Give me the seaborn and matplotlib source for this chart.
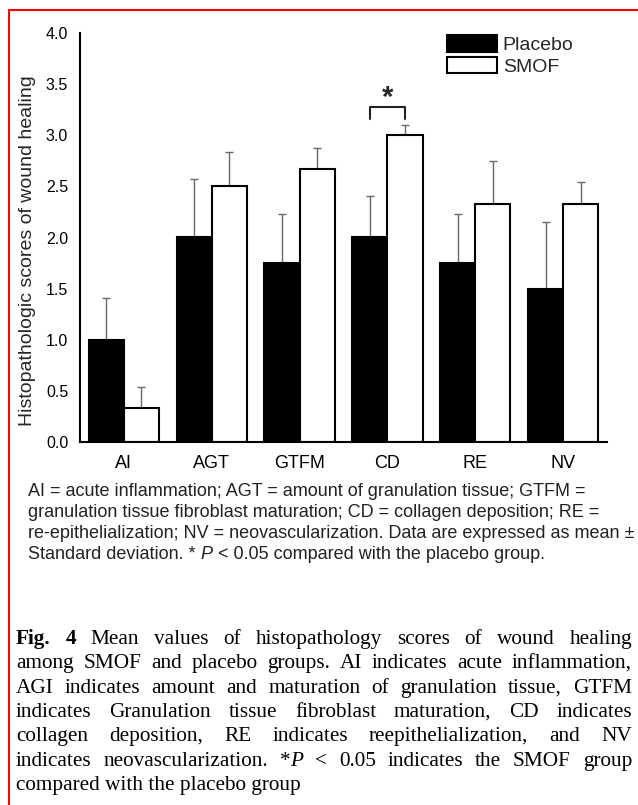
import numpy as np
import pandas as pd
import matplotlib
matplotlib.use("Agg")
import matplotlib.pyplot as plt
from matplotlib.lines import Line2D
import seaborn as sns

# ================= DATA =================
categories = ["AI", "AGT", "GTFM", "CD", "RE", "NV"]
groups = ["Placebo", "SMOF"]
placebo_mean = [1.00, 2.00, 1.75, 2.00, 1.75, 1.50]
placebo_sd = [0.41, 0.57, 0.48, 0.41, 0.48, 0.65]
smof_mean = [0.33, 2.50, 2.67, 3.00, 2.33, 2.33]
smof_sd = [0.21, 0.34, 0.21, 0.10, 0.42, 0.21]
y_ticks = [0.0, 0.5, 1.0, 1.5, 2.0, 2.5, 3.0, 3.5, 4.0]
y_label = "Histopathologic scores of wound healing"
sig_category = "CD"

note_lines = [
    [("AI = acute inflammation; AGT = amount of granulation tissue; GTFM =", "n")],
    [("granulation tissue fibroblast maturation; CD = collagen deposition; RE =", "n")],
    [("re-epithelialization; NV = neovascularization. Data are expressed as mean \u00b1", "n")],
    [("Standard deviation. * ", "n"), ("P", "i"), (" < 0.05 compared with the placebo group.", "n")],
]

caption_lines = [
    [("Fig. 4 ", "b"), ("Mean values of histopathology scores of wound healing", "n")],
    [("among SMOF and placebo groups. AI indicates acute inflammation,", "n")],
    [("AGI indicates amount and maturation of granulation tissue, GTFM", "n")],
    [("indicates Granulation tissue fibroblast maturation, CD indicates", "n")],
    [("collagen deposition, RE indicates reepithelialization, and NV", "n")],
    [("indicates neovascularization. *", "n"), ("P", "i"), (" < 0.05 indicates the SMOF group", "n")],
    [("compared with the placebo group", "n")],
]

# ================= FIGURE =================
sns.set_style("white")
plt.rcParams["font.family"] = ["Liberation Sans", "DejaVu Sans"]

W, H = 638, 805
fig = plt.figure(figsize=(W / 100, H / 100), dpi=100)
ax = fig.add_axes([80 / W, 1 - 442 / H, (607 - 80) / W, (442 - 33) / H])

df = pd.DataFrame({
    "category": categories * 2,
    "group": ["Placebo"] * len(categories) + ["SMOF"] * len(categories),
    "score": placebo_mean + smof_mean,
})

sns.barplot(
    data=df, x="category", y="score", hue="group",
    order=categories, hue_order=groups,
    palette={"Placebo": "black", "SMOF": "white"},
    edgecolor="black", linewidth=1.5, saturation=1,
    errorbar=None, width=0.8, legend=False, ax=ax
)
for cont in ax.containers:
    for p in cont:
        p.set_zorder(2)

# one-sided SD error bars (drawn under the bars so the lower cap is hidden)
for cont, sd in zip(ax.containers, [placebo_sd, smof_sd]):
    xs = [p.get_x() + p.get_width() / 2 for p in cont]
    ys = [p.get_height() for p in cont]
    ax.errorbar(xs, ys, yerr=[np.zeros(len(sd)), sd], fmt="none",
                ecolor="#6a6a6a", elinewidth=1.0, capsize=3.2, capthick=1.0, zorder=1)

ax.set_xlim(-0.5, 5.5)
ax.set_ylim(0, 4)
ax.set_yticks(y_ticks)
ax.set_yticklabels([f"{v:.1f}" for v in y_ticks])
ax.set_xlabel("")
ax.set_ylabel(y_label, fontsize=14, va="center")
ax.yaxis.set_label_coords(-0.100, 0.469)

sns.despine(ax=ax)
for side in ["left", "bottom"]:
    ax.spines[side].set_linewidth(1.5)
    ax.spines[side].set_color("black")
    ax.spines[side].set_zorder(3)
ax.tick_params(axis="y", length=6.5, width=1.5, pad=2, labelsize=11.5, colors="black")
ax.tick_params(axis="x", length=0, pad=9, labelsize=13, colors="black")

# significance bracket
ci = categories.index(sig_category)
p1 = ax.containers[0][ci]
p2 = ax.containers[1][ci]
x1 = p1.get_x() + p1.get_width() / 2
x2 = p2.get_x() + p2.get_width() / 2
ax.plot([x1, x1, x2, x2], [3.16, 3.28, 3.28, 3.16], color="#222222", lw=1.5, clip_on=False)
ax.text((x1 + x2) / 2, 3.29, "*", ha="center", va="baseline", fontsize=21,
        fontweight="bold", clip_on=False)

# legend
ax.legend(ax.containers, groups, loc="upper left",
          bbox_to_anchor=(447 / W, 1 - 35 / H), bbox_transform=fig.transFigure,
          frameon=False, fontsize=14, handlelength=2.57, handleheight=0.93,
          handletextpad=0.3, labelspacing=0.15, borderpad=0, borderaxespad=0)

# red frame
fig.add_artist(Line2D([8.5 / W, 1], [1 - 10 / H, 1 - 10 / H], color="red", lw=1.5,
                      transform=fig.transFigure))
fig.add_artist(Line2D([8.5 / W, 8.5 / W], [0, 1 - 10 / H], color="red", lw=1.5,
                      transform=fig.transFigure))

# ================= CAPTIONS =================
renderer = fig.canvas.get_renderer()


def style_kw(s):
    if s == "b":
        return {"fontweight": "bold"}
    if s == "i":
        return {"fontstyle": "italic"}
    return {}


def text_width(text, fam, size, s):
    t = fig.text(0, 0, text, family=fam, size=size, **style_kw(s))
    w = t.get_window_extent(renderer).width
    t.remove()
    return w


def split_words(runs):
    words = [[]]
    for text, s in runs:
        parts = text.split(" ")
        for i, part in enumerate(parts):
            if i > 0:
                words.append([])
            if part:
                words[-1].append((part, s))
    return [w for w in words if w]


def draw_runs(runs, x0, y, fam, size, color):
    space = text_width("a a", fam, size, "n") - text_width("aa", fam, size, "n")
    x = x0
    for t, s in runs:
        lead = len(t) - len(t.lstrip(" "))
        trail = len(t) - len(t.rstrip(" "))
        x += lead * space
        core = t.strip(" ")
        fig.text(x / W, 1 - y / H, core, ha="left", va="baseline", family=fam,
                 size=size, color=color, **style_kw(s))
        x += text_width(core, fam, size, s) + trail * space


def draw_justified(runs, x0, x1, y, fam, size, color):
    words = split_words(runs)
    widths = [sum(text_width(t, fam, size, s) for t, s in w) for w in words]
    gap = (x1 - x0 - sum(widths)) / (len(words) - 1)
    x = x0
    for w, wd in zip(words, widths):
        xx = x
        for t, s in w:
            fig.text(xx / W, 1 - y / H, t, ha="left", va="baseline", family=fam,
                     size=size, color=color, **style_kw(s))
            xx += text_width(t, fam, size, s)
        x += wd + gap


for i, runs in enumerate(note_lines):
    draw_runs(runs, 28, 496 + 21 * i, ["Liberation Sans"], 13, "#222222")

for i, runs in enumerate(caption_lines):
    y = 644 + 24.3 * i
    if i == len(caption_lines) - 1:
        draw_runs(runs, 16, y, ["Liberation Serif"], 15.3, "black")
    else:
        draw_justified(runs, 16, 632, y, ["Liberation Serif"], 15.3, "black")

fig.savefig("out.png", dpi=100)
